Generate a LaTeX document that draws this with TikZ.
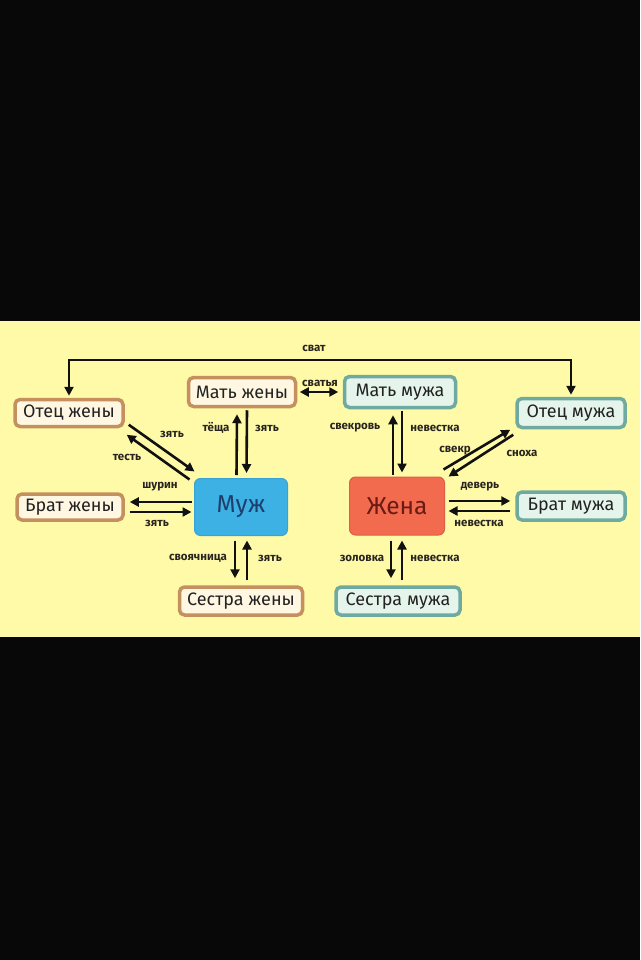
\documentclass[tikz,border=0pt]{standalone}
\usepackage{fontspec}
\setmainfont{Fira Sans}
\usetikzlibrary{arrows.meta,calc}
\definecolor{bg}{HTML}{FEFAA8}
\definecolor{brownb}{HTML}{C4915E}
\definecolor{brownf}{HTML}{FFF7E2}
\definecolor{tealb}{HTML}{6FAAA0}
\definecolor{tealf}{HTML}{E6F5EC}
\definecolor{muzhc}{HTML}{3DB1E4}
\definecolor{muzht}{HTML}{1E3F6E}
\definecolor{zhenac}{HTML}{F26B4F}
\definecolor{zhenat}{HTML}{6B1A14}
\definecolor{textc}{HTML}{222222}
\definecolor{lblc}{HTML}{2A2420}
\definecolor{arrc}{HTML}{111111}
\tikzset{
  wbox/.style={draw=brownb, fill=brownf, line width=3.5pt, rounded corners=5pt,
    font=\fontsize{18}{18}\selectfont, text=textc, inner sep=0pt},
  hbox/.style={wbox, draw=tealb, fill=tealf},
  mainbox/.style={line width=1pt, rounded corners=6pt, inner sep=0pt,
    minimum width=93pt, minimum height=57pt, font=\fontsize{24.5}{25}\selectfont},
  lbl/.style={font=\bfseries\fontsize{11.5}{12}\selectfont, text=lblc, inner sep=0pt},
  arr/.style={line width=2.6pt, draw=arrc, -{Triangle[length=9pt,width=9pt]}},
  darr/.style={line width=2.6pt, draw=arrc, {Triangle[length=9pt,width=9pt]}-{Triangle[length=9pt,width=9pt]}}
}
\begin{document}
\begin{tikzpicture}[x=1pt,y=-1pt]
\fill[black!97] (0,0) rectangle (640,960);
\fill[bg] (0,321) rectangle (640,637);
\useasboundingbox (0,0) rectangle (640,960);

% boxes
\node[wbox, minimum width=108pt, minimum height=27pt] (otetsZ) at (69,413) {Отец жены};
\node[wbox, minimum width=107pt, minimum height=29pt] (matZ) at (242,392) {Мать жены};
\node[hbox, minimum width=111pt, minimum height=31pt] (matM) at (400,392) {Мать мужа};
\node[hbox, minimum width=108pt, minimum height=29pt] (otetsM) at (571,413) {Отец мужа};
\node[wbox, minimum width=106pt, minimum height=26pt] (bratZ) at (70,507) {Брат жены};
\node[hbox, minimum width=108pt, minimum height=28pt] (bratM) at (571,506) {Брат мужа};
\node[wbox, minimum width=123pt, minimum height=28pt] (sestraZ) at (241,601) {Сестра жены};
\node[hbox, minimum width=124pt, minimum height=28pt] (sestraM) at (398,601) {Сестра мужа};
\node[mainbox, fill=muzhc, draw=muzhc!92!black, text=muzht] (muzh) at (241,507) {Муж};
\node[mainbox, fill=zhenac, draw=zhenac!90!black, minimum width=95pt, minimum height=58pt, text=zhenat] (zhena) at (397,506) {Жена};

% сват
\coordinate (svat) at (320,360);
\draw[darr, shorten <=2pt, shorten >=2pt] (otetsZ.north) |- (svat) -| (otetsM.north);
\node[lbl] (lsvat) at (314,348) {сват};

% сватья
\draw[darr, shorten <=2.5pt, shorten >=4.5pt] (matZ.east) -- (matM.west);
\node[lbl] (lsvatya) at (320,383) {сватья};

% Мать жены -- Муж
\draw[arr] ($(muzh.north)+(-4.5,-3)$) -- ($(matZ.south)+(-5,6)$);
\draw[arr] ($(matZ.south)+(5,2)$) -- ($(muzh.north)+(5.5,-5)$);
\node[lbl] (ltescha) at (216,428) {тёща};
\node[lbl] (lzyat1) at (267,428) {зять};

% Мать мужа -- Жена
\draw[arr] ($(zhena.north)+(-4,-2)$) -- ($(matM.south)+(-7,6)$);
\draw[arr] ($(matM.south)+(2,2)$) -- ($(zhena.north)+(5,-4)$);
\node[lbl] (lsvekrov) at (355,428) {свекровь};
\node[lbl] (lnev1) at (435,428) {невестка};

% Отец жены -- Муж
\draw[arr] ($(otetsZ.south east)+(4,-3.5)$) -- ($(muzh.north west)+(0.5,-6.5)$);
\draw[arr] ($(muzh.north west)+(-4.5,1.5)$) -- ($(otetsZ.south east)+(2,6.5)$);
\node[lbl] (lzyat2) at (172,434) {зять};
\node[lbl] (ltest) at (127,457) {тесть};

% Отец мужа -- Жена
\draw[arr] ($(zhena.north east)+(-1.5,-7)$) -- ($(otetsM.south west)+(-5,0.5)$);
\draw[arr] ($(otetsM.south west)+(-2,5.5)$) -- ($(zhena.north east)+(3.5,0)$);
\node[lbl] (lsvekr) at (455,451) {свекр};
\node[lbl] (lsnoha) at (522,453) {сноха};

% Брат жены -- Муж
\draw[arr] ($(muzh.west)+(-2.5,-5)$) -- ($(bratZ.east)+(5,-5)$);
\draw[arr] ($(bratZ.east)+(5,5)$) -- ($(muzh.west)+(-2.5,5)$);
\node[lbl] (lshurin) at (160,487) {шурин};
\node[lbl] (lzyat3) at (157,523) {зять};

% Брат мужа -- Жена
\draw[arr] ($(zhena.east)+(3.5,-5)$) -- ($(bratM.west)+(-5,-5)$);
\draw[arr] ($(bratM.west)+(-5,5)$) -- ($(zhena.east)+(3.5,5)$);
\node[lbl] (ldever) at (480,487) {деверь};
\node[lbl] (lnev2) at (479,523) {невестка};

% Муж -- Сестра жены
\draw[arr] ($(muzh.south)+(-6,4.5)$) -- ($(sestraZ.north)+(-6,-7)$);
\draw[arr] ($(sestraZ.north)+(6,-5)$) -- ($(muzh.south)+(6,4.5)$);
\node[lbl] (lsvoyach) at (198,558) {своячница};
\node[lbl] (lzyat4) at (270,558) {зять};

% Жена -- Сестра мужа
\draw[arr] ($(zhena.south)+(-6,5)$) -- ($(sestraM.north)+(-7,-7)$);
\draw[arr] ($(sestraM.north)+(4,-5)$) -- ($(zhena.south)+(5,5)$);
\node[lbl] (lzolovka) at (362,558) {золовка};
\node[lbl] (lnev3) at (435,558) {невестка};
\end{tikzpicture}
\end{document}
